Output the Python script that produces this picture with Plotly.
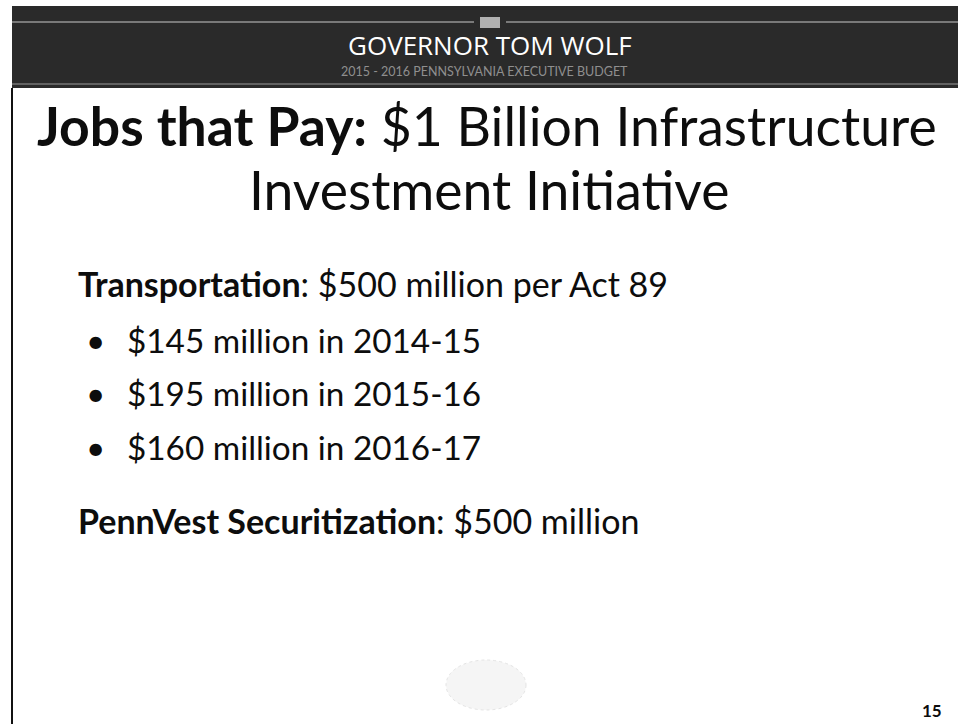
import plotly.graph_objects as go

header_title = "GOVERNOR TOM WOLF"
header_sub = "2015 - 2016 PENNSYLVANIA EXECUTIVE BUDGET"
title_bold = "Jobs that Pay:"
title_rest = " $1 Billion Infrastructure"
title_line2 = "Investment Initiative"
section_labels = ["Transportation", "PennVest Securitization"]
section_values = ["$500 million per Act 89", "$500 million"]
bullet_amounts = ["$145", "$195", "$160"]
bullet_years = ["2014-15", "2015-16", "2016-17"]
page_number = "15"

W, H = 958, 724
FONT = "Lato"

fig = go.Figure()
fig.update_layout(
    width=W, height=H,
    margin=dict(l=0, r=0, t=0, b=0),
    paper_bgcolor="white", plot_bgcolor="white",
    xaxis=dict(range=[0, W], visible=False, fixedrange=True),
    yaxis=dict(range=[H, 0], visible=False, fixedrange=True),
    showlegend=False,
)

shapes = []
# header band
shapes.append(dict(type="rect", xref="x", yref="y", x0=12, x1=W, y0=6, y1=88,
                   fillcolor="#2a2a2a", line=dict(width=0), layer="below"))
shapes.append(dict(type="line", xref="x", yref="y", x0=12, x1=474, y0=22, y1=22,
                   line=dict(color="#c8c8c8", width=1)))
shapes.append(dict(type="line", xref="x", yref="y", x0=506, x1=W, y0=22, y1=22,
                   line=dict(color="#c8c8c8", width=1)))
shapes.append(dict(type="line", xref="x", yref="y", x0=12, x1=W, y0=84, y1=84,
                   line=dict(color="#9a9a9a", width=1)))
shapes.append(dict(type="rect", xref="x", yref="y", x0=480, x1=500, y0=17, y1=28,
                   fillcolor="#b0b0b0", line=dict(width=0)))
# left border
shapes.append(dict(type="line", xref="x", yref="y", x0=12, x1=12, y0=88, y1=H,
                   line=dict(color="#111111", width=2)))
# faint seal
shapes.append(dict(type="circle", xref="x", yref="y", x0=446, x1=526, y0=660, y1=710,
                   fillcolor="#f5f5f5", line=dict(color="#e4e4e4", width=1, dash="dot")))
fig.update_layout(shapes=shapes)

ann = []
ann.append(dict(x=490, y=45, text=header_title, font=dict(family="Open Sans", size=26, color="white")))
ann.append(dict(x=484, y=71, text=header_sub, font=dict(family=FONT, size=12.5, color="#8f8f8f")))
ann.append(dict(x=487, y=125, text=f"<b>{title_bold}</b>{title_rest}",
                font=dict(family=FONT, size=53.5, color="#0d0d0d")))
ann.append(dict(x=489, y=189, text=title_line2, font=dict(family=FONT, size=53.5, color="#0d0d0d")))

head_font = dict(family=FONT, size=34, color="#0d0d0d")
bul_font = dict(family=FONT, size=33.3, color="#0d0d0d")
ann.append(dict(x=76, y=283, xanchor="left", text=f"<b>{section_labels[0]}</b>: {section_values[0]}",
                font=head_font))
bullet_y = [340, 393, 447]
for a, yr, yy in zip(bullet_amounts, bullet_years, bullet_y):
    ann.append(dict(x=95, y=yy, text="•", font=bul_font))
    ann.append(dict(x=125, y=yy, xanchor="left", text=f"{a} million in {yr}", font=bul_font))
ann.append(dict(x=76, y=520, xanchor="left", text=f"<b>{section_labels[1]}</b>: {section_values[1]}",
                font=head_font))
ann.append(dict(x=932, y=710, text=f"<b>{page_number}</b>", font=dict(family=FONT, size=17, color="#0d0d0d")))

for a in ann:
    a.setdefault("xanchor", "center")
    a.update(xref="x", yref="y", yanchor="middle", showarrow=False)
fig.update_layout(annotations=ann)

fig.write_html("out.html", config={"displayModeBar": False},
               post_script="document.body.style.margin='0';document.body.style.overflow='hidden';")
